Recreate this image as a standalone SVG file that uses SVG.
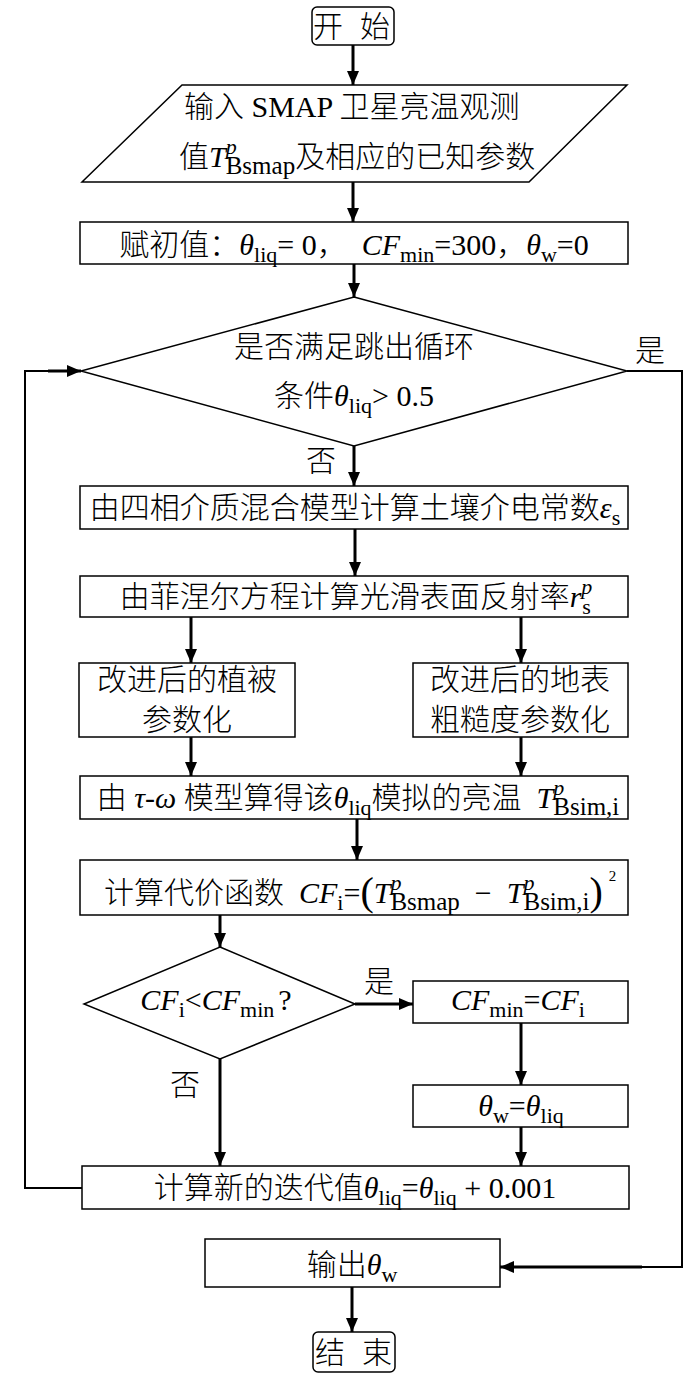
<svg xmlns="http://www.w3.org/2000/svg" width="700" height="1376" viewBox="0 0 700 1376">
<style>
.n rect,.n polygon{fill:#fff;stroke:#000;stroke-width:1.5}
text{font-family:"Liberation Serif","Noto Sans CJK SC",serif;font-size:30px;font-weight:300;fill:#000}
.m{text-anchor:middle}
.i{font-style:italic}
.s{font-size:22px}
.b{font-size:25px}
.p{font-size:40px}
.t{font-size:15px}
.c line,.c polyline{fill:none;stroke:#000;stroke-width:3}
.c .thin{stroke-width:2}
</style>
<defs>
<marker id="ah" markerUnits="userSpaceOnUse" markerWidth="14" markerHeight="12" refX="14" refY="6" orient="auto">
<path d="M0,0 L14,6 L0,12 z" fill="#000"/>
</marker>
</defs>
<g class="c" id="connectors">
<line x1="353" y1="45" x2="353" y2="85" marker-end="url(#ah)"/>
<line x1="353" y1="182" x2="353" y2="222" marker-end="url(#ah)"/>
<line x1="354" y1="264" x2="354" y2="297" marker-end="url(#ah)"/>
<line x1="354" y1="446" x2="354" y2="486" marker-end="url(#ah)"/>
<line x1="355" y1="529" x2="355" y2="576" marker-end="url(#ah)"/>
<line x1="191" y1="617" x2="191" y2="663" marker-end="url(#ah)"/>
<line x1="521" y1="617" x2="521" y2="663" marker-end="url(#ah)"/>
<line x1="191" y1="737" x2="191" y2="776" marker-end="url(#ah)"/>
<line x1="521" y1="737" x2="521" y2="776" marker-end="url(#ah)"/>
<line x1="357" y1="819" x2="357" y2="860" marker-end="url(#ah)"/>
<line x1="220" y1="915" x2="220" y2="947" marker-end="url(#ah)"/>
<line x1="355" y1="1004" x2="413" y2="1004" marker-end="url(#ah)"/>
<line x1="521" y1="1023" x2="521" y2="1085" marker-end="url(#ah)"/>
<line x1="521" y1="1127" x2="521" y2="1166" marker-end="url(#ah)"/>
<line x1="220" y1="1059" x2="220" y2="1166" marker-end="url(#ah)"/>
<polyline class="thin" points="82,1188 25,1188 25,371 50,371"/>
<line x1="48" y1="371" x2="81" y2="371" marker-end="url(#ah)"/>
<polyline class="thin" points="627,371 682,371 682,1267 640,1267"/>
<line x1="642" y1="1267" x2="500" y2="1267" marker-end="url(#ah)"/>
<line x1="352" y1="1287" x2="352" y2="1332" marker-end="url(#ah)"/>
</g>
<g class="n" id="start">
<rect x="312" y="7" width="82" height="38" rx="5"/>
<text class="m" x="328" y="37">开</text><text class="m" x="375" y="37">始</text>
</g>
<g class="n" id="input">
<polygon points="182,85 627,85 529,182 82,182"/>
<text x="184" y="117">输入 SMAP 卫星亮温观测</text>
<text x="179" y="167">值<tspan class="i">T</tspan><tspan class="i s" dy="-13">p</tspan><tspan class="b" dx="-11" dy="20">Bsmap</tspan><tspan dy="-7">及相应的已知参数</tspan></text>
</g>
<g class="n" id="init">
<rect x="80" y="222" width="548" height="42"/>
<text class="m" x="354" y="255" xml:space="preserve">赋初值：<tspan class="i">θ</tspan><tspan class="s" dy="7">liq</tspan><tspan dy="-7">= 0，  </tspan><tspan class="i">CF</tspan><tspan class="s" dy="7">min</tspan><tspan dy="-7">=300，</tspan><tspan class="i">θ</tspan><tspan class="s" dy="7">w</tspan><tspan dy="-7">=0</tspan></text>
</g>
<g class="n" id="loop-check">
<polygon points="354,297 627,371 354,446 81,371"/>
<text class="m" x="354" y="357">是否满足跳出循环</text>
<text class="m" x="354" y="406">条件<tspan class="i">θ</tspan><tspan class="s" dy="7">liq</tspan><tspan dy="-7">&gt; 0.5</tspan></text>
<text class="m" x="650" y="361">是</text>
<text class="m" x="321" y="471">否</text>
</g>
<g class="n" id="dielectric">
<rect x="80" y="486" width="548" height="43"/>
<text class="m" x="355" y="518">由四相介质混合模型计算土壤介电常数<tspan class="i">ε</tspan><tspan class="s" dy="7">s</tspan></text>
</g>
<g class="n" id="fresnel">
<rect x="80" y="576" width="548" height="41"/>
<text class="m" x="356" y="607">由菲涅尔方程计算光滑表面反射率<tspan class="i">r</tspan><tspan class="i s" dy="-13">p</tspan><tspan class="s" dx="-10" dy="20">s</tspan></text>
</g>
<g class="n" id="vegetation">
<rect x="79" y="663" width="216" height="74"/>
<text class="m" x="187" y="690">改进后的植被</text>
<text class="m" x="187" y="730">参数化</text>
</g>
<g class="n" id="roughness">
<rect x="413" y="663" width="215" height="74"/>
<text class="m" x="520" y="690">改进后的地表</text>
<text class="m" x="520" y="730">粗糙度参数化</text>
</g>
<g class="n" id="tau-omega">
<rect x="80" y="776" width="548" height="43"/>
<text class="m" x="358" y="808" xml:space="preserve">由 <tspan class="i">τ-ω</tspan> 模型算得该<tspan class="i">θ</tspan><tspan class="s" dy="7">liq</tspan><tspan dy="-7">模拟的亮温  </tspan><tspan class="i">T</tspan><tspan class="i s" dy="-13">p</tspan><tspan class="b" dx="-11" dy="20">Bsim,i</tspan></text>
</g>
<g class="n" id="cost">
<rect x="80" y="860" width="548" height="55"/>
<text x="104" y="903" xml:space="preserve">计算代价函数  <tspan class="i">CF</tspan><tspan class="s" dy="7">i</tspan><tspan dy="-7">=</tspan><tspan class="p" dy="2">(</tspan><tspan class="i" dy="-2">T</tspan><tspan class="i s" dy="-13">p</tspan><tspan class="b" dx="-11" dy="20">Bsmap</tspan><tspan dy="-7">  −  </tspan><tspan class="i">T</tspan><tspan class="i s" dy="-13">p</tspan><tspan class="b" dx="-11" dy="20">Bsim,i</tspan><tspan class="p" dy="-5">)</tspan><tspan class="t" dx="6" dy="-24">2</tspan></text>
</g>
<g class="n" id="compare">
<polygon points="220,947 355,1004 220,1059 84,1004"/>
<text class="m" x="216" y="1010"><tspan class="i">CF</tspan><tspan class="s" dy="7">i</tspan><tspan dy="-7">&lt;</tspan><tspan class="i">CF</tspan><tspan class="s" dy="7">min</tspan><tspan dx="4" dy="-7">?</tspan></text>
<text class="m" x="379" y="992">是</text>
<text class="m" x="185" y="1095">否</text>
</g>
<g class="n" id="update-min">
<rect x="413" y="981" width="215" height="42"/>
<text class="m" x="518" y="1010"><tspan class="i">CF</tspan><tspan class="s" dy="7">min</tspan><tspan dy="-7">=</tspan><tspan class="i">CF</tspan><tspan class="s" dy="7">i</tspan></text>
</g>
<g class="n" id="update-w">
<rect x="413" y="1085" width="215" height="42"/>
<text class="m" x="521" y="1116"><tspan class="i">θ</tspan><tspan class="s" dy="7">w</tspan><tspan dy="-7">=</tspan><tspan class="i">θ</tspan><tspan class="s" dy="7">liq</tspan></text>
</g>
<g class="n" id="iterate">
<rect x="82" y="1166" width="547" height="43"/>
<text class="m" x="355" y="1198" xml:space="preserve">计算新的迭代值<tspan class="i">θ</tspan><tspan class="s" dy="7">liq</tspan><tspan dy="-7">=</tspan><tspan class="i">θ</tspan><tspan class="s" dy="7">liq</tspan><tspan dy="-7"> + 0.001</tspan></text>
</g>
<g class="n" id="output">
<rect x="205" y="1239" width="295" height="48"/>
<text class="m" x="352" y="1275">输出<tspan class="i">θ</tspan><tspan class="s" dy="7">w</tspan></text>
</g>
<g class="n" id="end">
<rect x="313" y="1332" width="82" height="40" rx="5"/>
<text class="m" x="330" y="1363">结</text><text class="m" x="377" y="1363">束</text>
</g>
</svg>
